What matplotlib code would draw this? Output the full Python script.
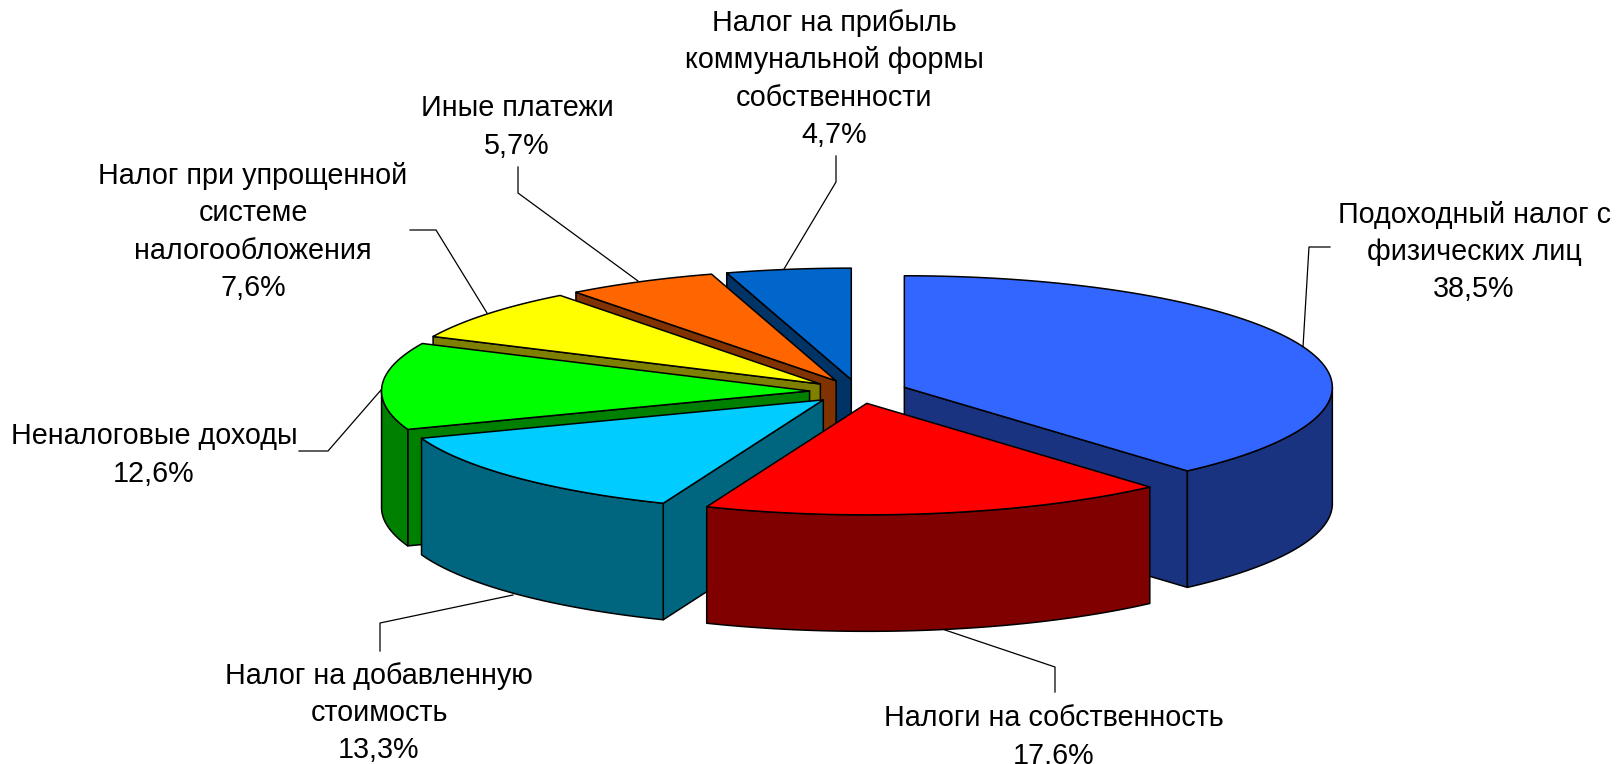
import numpy as np
import matplotlib
matplotlib.use('Agg')
import matplotlib.pyplot as plt
from matplotlib.patches import Polygon

names = ['Подоходный налог с\nфизических лиц',
         'Налоги на собственность',
         'Налог на добавленную\nстоимость',
         'Неналоговые доходы',
         'Налог при упрощенной\nсистеме\nналогообложения',
         'Иные платежи',
         'Налог на прибыль\nкоммунальной формы\nсобственности']
shares = [38.5, 17.6, 13.3, 12.6, 7.6, 5.7, 4.7]
top_colors = ['#3366FF', '#FF0000', '#00CCFF', '#00FF00', '#FFFF00', '#FF6600', '#0066CC']
side_colors = ['#1A3380', '#800000', '#006680', '#008000', '#808000', '#803300', '#003366']

# pie geometry in pixels of the picture
cx, cy = 858.5, 391.5
rx, ry = 428, 111.5
depth = 116.5
ex, ey = 49, 12

# label centre and leader line for each slice
label_pos = [(1474, 252), (1054, 737), (379, 713), (154, 455), (253, 232), (517, 127), (834, 79)]
leaders = [[(1303, 347), (1309, 247), (1330, 247)],
           [(945, 630), (1055, 667), (1055, 692)],
           [(513, 595), (380, 623), (380, 651)],
           [(381, 390), (328, 451), (299, 451)],
           [(487, 313), (436, 230), (410, 230)],
           [(638, 281), (518, 193), (518, 167)],
           [(784, 269), (836, 182), (836, 156)]]

plt.rcParams['font.family'] = ['Liberation Sans', 'DejaVu Sans']

fig = plt.figure(figsize=(16.16, 7.64), dpi=100)
ax = fig.add_axes([0, 0, 1, 1])
ax.set_xlim(0, 1616)
ax.set_ylim(764, 0)
ax.axis('off')

edges = np.cumsum([0] + shares) / sum(shares) * 2 * np.pi
lw = 1.1


def rim(x0, y0, t0, t1):
    t = np.linspace(t0, t1, 80)
    return np.column_stack([x0 + rx * np.sin(t), y0 - ry * np.cos(t)])


# back slices first, the front ones paint over them
for i in [6, 5, 4, 3, 2, 0, 1]:
    t0, t1 = edges[i], edges[i + 1]
    mid = (t0 + t1) / 2
    x0 = cx + ex * np.sin(mid)
    y0 = cy - ey * np.cos(mid)
    apex = np.array([x0, y0])
    down = np.array([0, depth])

    # cut faces that look towards the viewer
    for t, sign in [(t0, -1), (t1, 1)]:
        if sign * np.sin(t) > 0:
            p = rim(x0, y0, t, t)[0]
            ax.add_patch(Polygon([apex, p, p + down, apex + down], closed=True,
                                 fc=side_colors[i], ec='black', lw=lw, joinstyle='round'))

    # outer wall, only the part between 90 and 270 degrees shows
    a = max(t0, np.pi / 2)
    b = min(t1, 3 * np.pi / 2)
    if a < b:
        r = rim(x0, y0, a, b)
        ax.add_patch(Polygon(np.vstack([r, (r + down)[::-1]]), closed=True,
                             fc=side_colors[i], ec='black', lw=lw, joinstyle='round'))

    # top
    ax.add_patch(Polygon(np.vstack([apex, rim(x0, y0, t0, t1)]), closed=True,
                         fc=top_colors[i], ec='black', lw=lw, joinstyle='round'))

for i in range(len(names)):
    line = np.array(leaders[i])
    ax.plot(line[:, 0], line[:, 1], color='black', lw=0.9, zorder=1)
    txt = names[i] + '\n' + f'{shares[i]:.1f}'.replace('.', ',') + '%'
    ax.text(label_pos[i][0], label_pos[i][1], txt, ha='center', va='center',
            fontsize=20.7, linespacing=1.42, color='black', clip_on=False)

fig.savefig('out.png', dpi=100)
